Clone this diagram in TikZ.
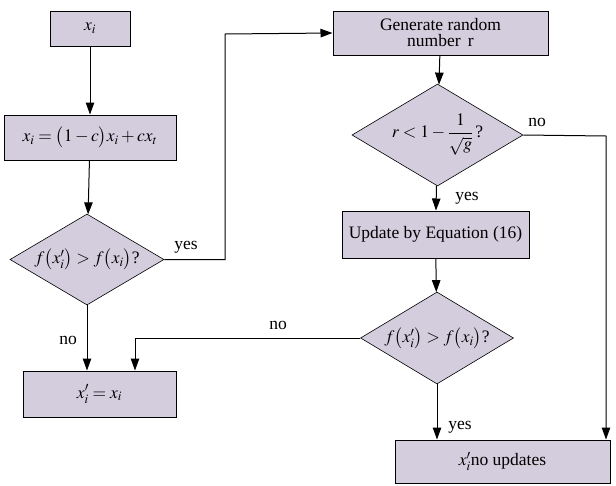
\documentclass[tikz,border=0pt]{standalone}
\usepackage{amsmath}
\usepackage{mathptmx}
\usepackage[no-math]{fontspec}
\setmainfont{Liberation Serif}
\usetikzlibrary{shapes.geometric,arrows.meta}
\definecolor{boxfill}{RGB}{212,205,222}
\begin{document}
\begin{tikzpicture}[x=1pt, y=-1pt, font=\rmfamily\fontsize{17.5}{19}\selectfont,
      block/.style={rectangle, draw, line width=1pt, fill=boxfill, align=center, inner sep=2pt},
      decide/.style={diamond, draw, line width=0.6pt, fill=boxfill, inner sep=0pt, shape aspect=1.7},
      arrow/.style={-{Triangle[length=12pt, width=8.5pt]}, line width=1pt}
    ]
      \useasboundingbox (0,0) rectangle (616,485);

      % left column
      \node[block, minimum width=80, minimum height=35] (xi) at (90,28.5) {$x_i$};
      \node[block, minimum width=172, minimum height=45] (move) at (90,137.5) {$x_i=\bigl(1-c\bigr)x_i+cx_t$};
      \node[decide, minimum width=154, minimum height=91] (better1) at (87,259.5) {\makebox[0pt]{$f\bigl(x_i'\bigr)>f\bigl(x_i\bigr)$?}};
      \node[block, minimum width=153, minimum height=46] (keep) at (99.5,394) {$x_i'=x_i$};

      % right column
      \node[block, minimum width=215, minimum height=44] (rand) at (440.5,33) {Generate random\\[-3pt]number\, r};
      \node[decide, minimum width=171, minimum height=102] (cond) at (437.5,135) {\makebox[0pt]{$r<1-\dfrac{1}{\sqrt{g}}\,$?}};
      \node[block, minimum width=187, minimum height=47] (eq) at (435.5,234.5) {Update by Equation (16)};
      \node[decide, minimum width=153, minimum height=92] (better2) at (437,338) {\makebox[0pt]{$f\bigl(x_i'\bigr)>f\bigl(x_i\bigr)$?}};
      \node[block, minimum width=215, minimum height=43] (noup) at (502.5,461.5) {$x_i'$no updates};

      \coordinate (turn) at (225,34);
      \coordinate (rside) at (606,136);
      \coordinate (back) at (135,338);

      \draw[arrow] (xi) -- (move);
      \draw[arrow] (move) -- (better1);
      \draw[arrow] (better1.east) -| (turn) -- (rand.west);
      \node (yes1) at (186,247) {yes};
      \draw[arrow] (better1.south) -- (better1.south |- keep.north);
      \node (no1) at (68,340) {no};

      \draw[arrow] (rand) -- (cond);
      \draw[arrow] (cond) -- (eq);
      \node (yes2) at (467,198) {yes};
      \draw[arrow] (cond.east) -- (rside) -- (rside |- noup.north);
      \node (no2) at (537,122) {no};
      \draw[arrow] (eq) -- (better2);
      \draw[arrow] (better2.south) -- (better2.south |- noup.north);
      \node (yes3) at (460,427) {yes};
      \draw[arrow] (better2.west) -- (back) -- (back |- keep.north);
      \node (no3) at (278,325) {no};
    \end{tikzpicture}
\end{document}
